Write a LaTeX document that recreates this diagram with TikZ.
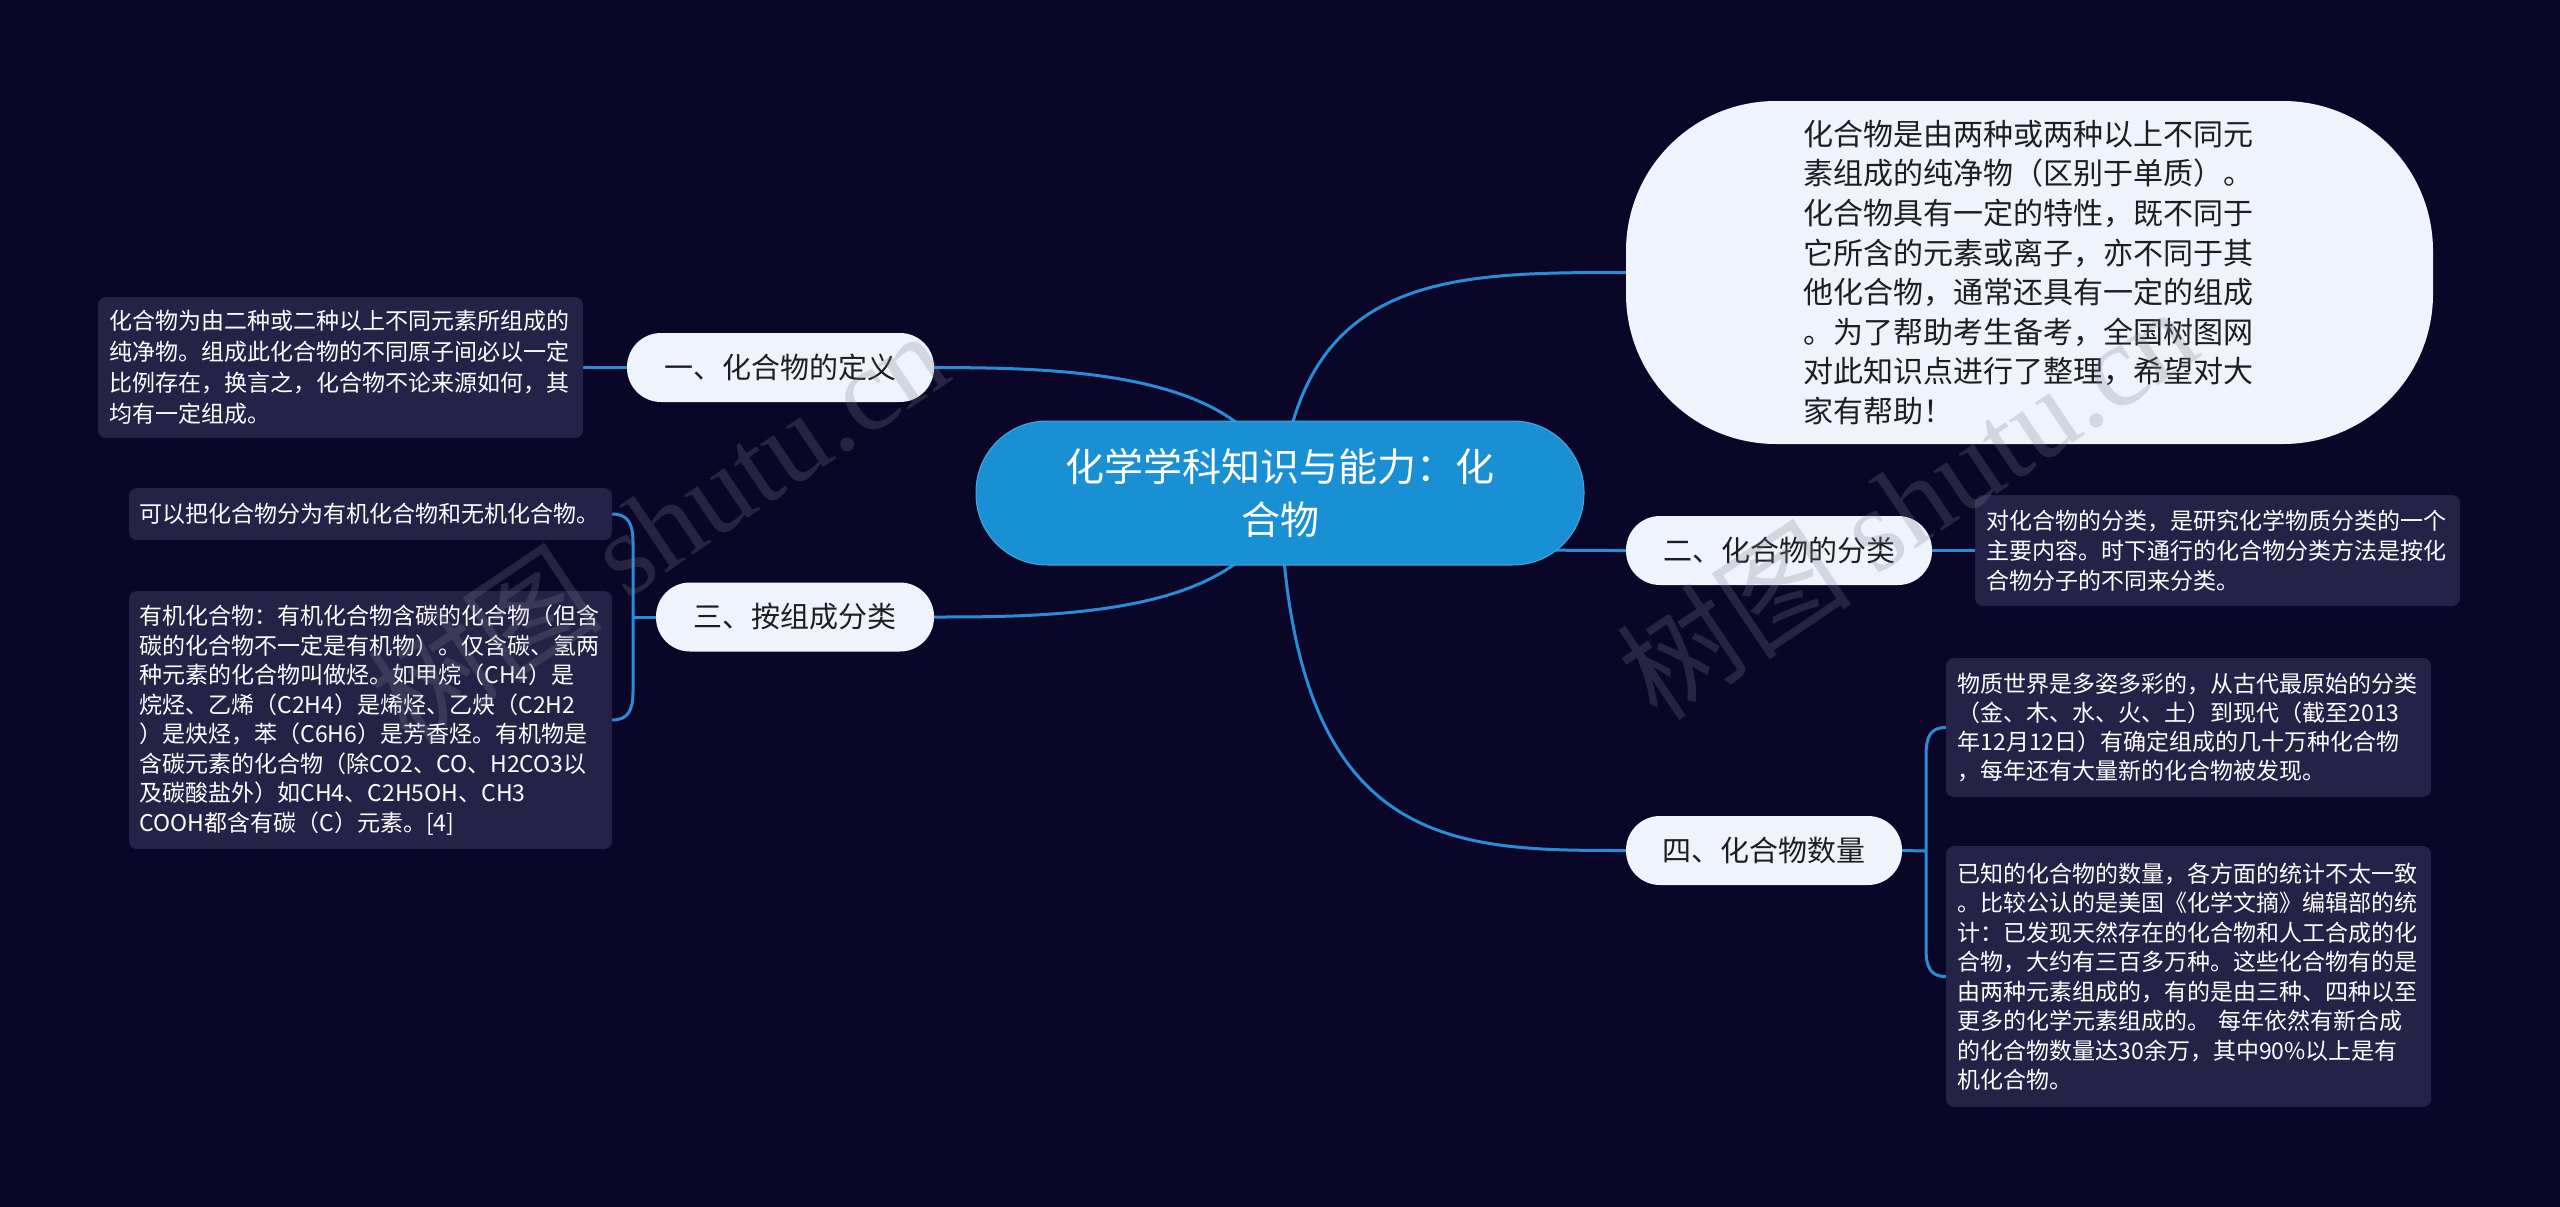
\documentclass[tikz,border=0pt]{standalone}
\usepackage{fontspec}
\setmainfont{Noto Sans CJK SC}
\newfontfamily\wmserif{Liberation Serif}
\usetikzlibrary{calc}
\definecolor{bgc}{RGB}{10,6,40}
\definecolor{leafc}{RGB}{37,34,72}
\definecolor{brc}{RGB}{238,243,252}
\definecolor{brtext}{RGB}{30,30,34}
\definecolor{rootc}{RGB}{26,144,212}
\definecolor{linec}{RGB}{40,140,215}
\definecolor{wmc}{RGB}{128,128,140}
\pgfdeclarelayer{bglayer}
\pgfsetlayers{bglayer,main}
\tikzset{
  leaf/.style={fill=leafc, rounded corners=8pt, text=white, align=left, inner sep=0pt, font=\fontsize{23}{30}\selectfont},
  branchbox/.style={fill=brc, rounded corners=34pt, text=brtext, inner sep=0pt, minimum height=69, font=\fontsize{29}{34}\selectfont},
  rootbox/.style={fill=rootc, draw=rootc!80!white, line width=1pt, rounded corners=71pt, text=white, align=center, inner sep=0pt, font=\fontsize{39}{54}\selectfont},
  bubblebox/.style={fill=brc, rounded corners=150pt, text=brtext, align=left, inner sep=0pt, font=\fontsize{30}{39.6}\selectfont},
  conn/.style={draw=linec, line width=3pt},
  wm/.style={text=wmc, text opacity=0.25, inner sep=0pt, font=\fontsize{118}{122}\selectfont}
}
\begin{document}
\begin{tikzpicture}[x=1pt,y=-1pt]
\useasboundingbox (0,0) rectangle (2560,1207);
% root
\node[rootbox, minimum width=608, minimum height=144, text width=440pt] (root) at (1280,493)
  {化学学科知识与能力：化\\合物};
% bubble
\node[bubblebox, minimum width=807, minimum height=343, text width=452pt] (bub) at (2029.5,272.5)
  {化合物是由两种或两种以上不同元\\素组成的纯净物（区别于单质）。\\化合物具有一定的特性，既不同于\\它所含的元素或离子，亦不同于其\\他化合物，通常还具有一定的组成\\。为了帮助考生备考，全国树图网\\对此知识点进行了整理，希望对大\\家有帮助！};
% branches
\node[branchbox, minimum width=307] (B1) at (780.5,367.5) {一、化合物的定义};
\node[branchbox, minimum width=278] (B3) at (795,617) {三、按组成分类};
\node[branchbox, minimum width=306] (B2) at (1779,550.5) {二、化合物的分类};
\node[branchbox, minimum width=276] (B4) at (1764,850.5) {四、化合物数量};
% leaves
\node[leaf, minimum width=485, minimum height=141, text width=462pt, font=\fontsize{23}{31}\selectfont] (L1) at (340.5,367.5)
  {化合物为由二种或二种以上不同元素所组成的\\纯净物。组成此化合物的不同原子间必以一定\\比例存在，换言之，化合物不论来源如何，其\\均有一定组成。};
\node[leaf, minimum width=483, minimum height=52, text width=462pt] (L2) at (370.5,514)
  {可以把化合物分为有机化合物和无机化合物。};
\node[leaf, minimum width=483, minimum height=258, text width=462pt, font=\fontsize{23}{29.5}\selectfont] (L3) at (370.5,720)
  {有机化合物：有机化合物含碳的化合物（但含\\碳的化合物不一定是有机物）。仅含碳、氢两\\种元素的化合物叫做烃。如甲烷（CH4）是\\烷烃、乙烯（C2H4）是烯烃、乙炔（C2H2\\）是炔烃，苯（C6H6）是芳香烃。有机物是\\含碳元素的化合物（除CO2、CO、H2CO3以\\及碳酸盐外）如CH4、C2H5OH、CH3\\COOH都含有碳（C）元素。[4]};
\node[leaf, minimum width=485, minimum height=111, text width=462pt] (R1) at (2217.5,550.5)
  {对化合物的分类，是研究化学物质分类的一个\\主要内容。时下通行的化合物分类方法是按化\\合物分子的不同来分类。};
\node[leaf, minimum width=485, minimum height=139, text width=462pt, font=\fontsize{23}{28.8}\selectfont] (R2) at (2188.5,727.5)
  {物质世界是多姿多彩的，从古代最原始的分类\\（金、木、水、火、土）到现代（截至2013\\年12月12日）有确定组成的几十万种化合物\\，每年还有大量新的化合物被发现。};
\node[leaf, minimum width=485, minimum height=261, text width=462pt, font=\fontsize{23}{29.5}\selectfont] (R3) at (2188.5,976.5)
  {已知的化合物的数量，各方面的统计不太一致\\。比较公认的是美国《化学文摘》编辑部的统\\计：已发现天然存在的化合物和人工合成的化\\合物，大约有三百多万种。这些化合物有的是\\由两种元素组成的，有的是由三种、四种以至\\更多的化学元素组成的。 每年依然有新合成\\的化合物数量达30余万，其中90\%以上是有\\机化合物。};
\coordinate (j3) at (633,617);
\coordinate (j4) at (1926,851);
\begin{pgfonlayer}{bglayer}
\fill[bgc] (0,0) rectangle (2560,1207);
\draw[conn] (root.center) .. controls (1260,368) and (1050,368) .. (B1.east);
\draw[conn] (B1.west) -- (L1.east);
\draw[conn] (root.center) .. controls (1260,617) and (1050,617) .. (B3.east);
\draw[conn] (B3.west) -- (j3);
\draw[conn] (L2.east) .. controls ($(L2.east)+(16,0)$) and ($(j3|-L2.east)+(0,10)$) .. ($(j3|-L2.east)+(0,28)$) -- ($(j3|-L3.east)+(0,-28)$) .. controls ($(j3|-L3.east)+(0,-10)$) and ($(L3.east)+(16,0)$) .. (L3.east);
\draw[conn] (root.center) .. controls (1300,272.5) and (1450,272.5) .. (bub.west);
\draw[conn] (root.center) .. controls (1400,550.5) and (1500,550.5) .. (B2.west);
\draw[conn] (B2.east) -- (R1.west);
\draw[conn] (root.center) .. controls (1290,850.5) and (1450,850.5) .. (B4.west);
\draw[conn] (B4.east) -- (j4);
\draw[conn] (R2.west) .. controls ($(R2.west)+(-16,0)$) and ($(j4|-R2.west)+(0,10)$) .. ($(j4|-R2.west)+(0,28)$) -- ($(j4|-R3.west)+(0,-28)$) .. controls ($(j4|-R3.west)+(0,-10)$) and ($(R3.west)+(-16,0)$) .. (R3.west);
\end{pgfonlayer}
% watermarks
\node[wm, rotate=34, anchor=west] (wm1) at (384,710) {树图 {\wmserif shutu.cn}};
\node[wm, rotate=34, anchor=west] (wm2) at (1633,686) {树图 {\wmserif shutu.cn}};
\end{tikzpicture}
\end{document}
